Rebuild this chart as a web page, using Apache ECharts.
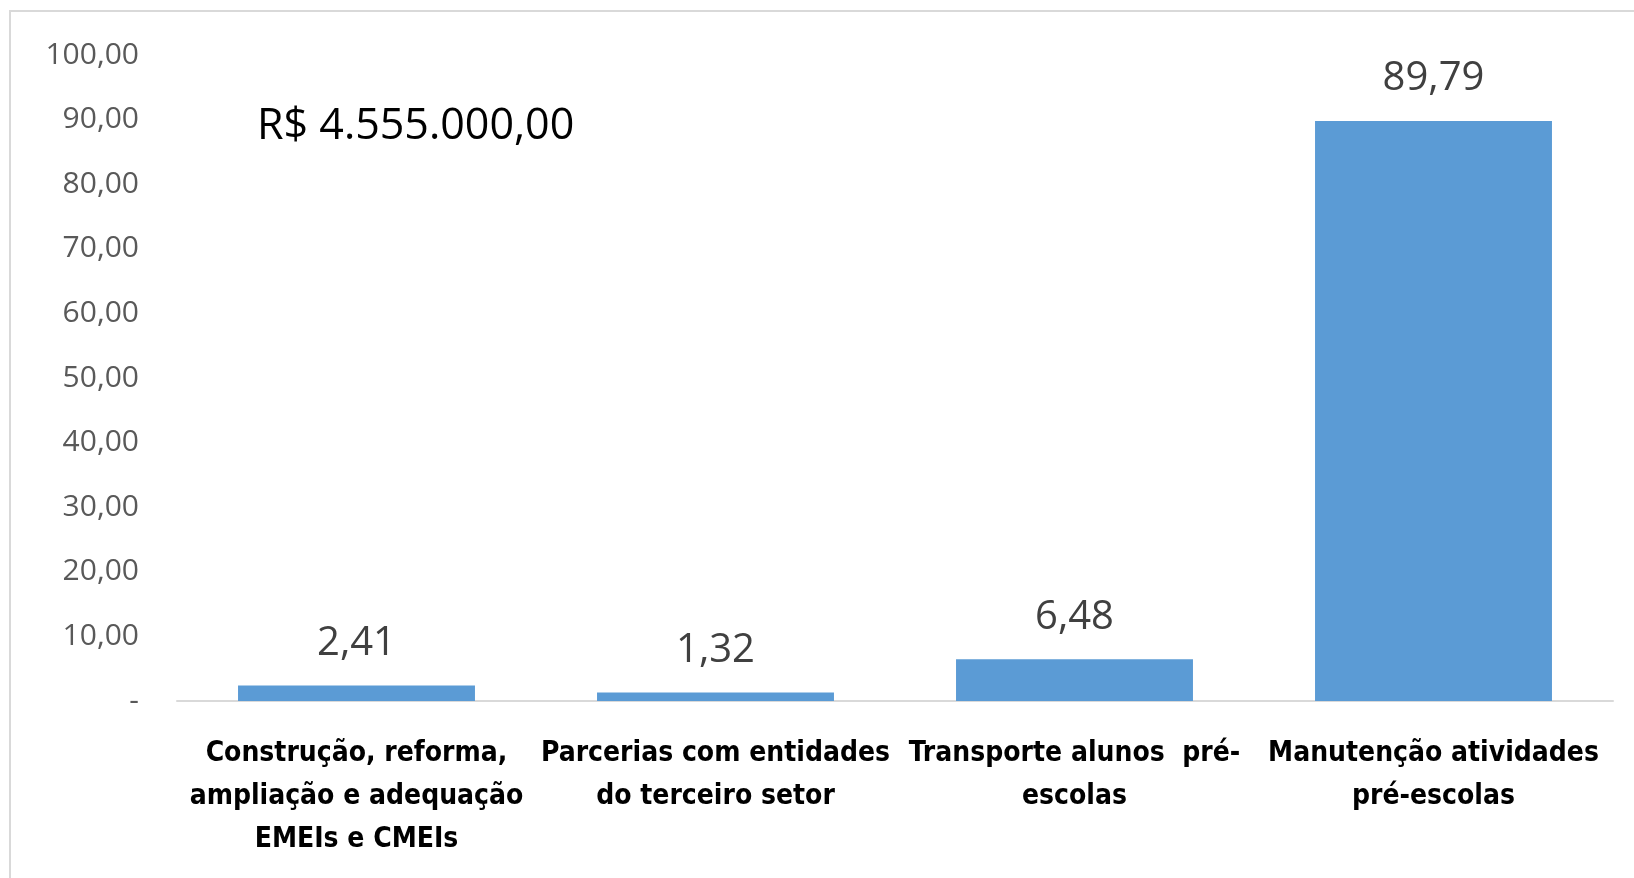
<!DOCTYPE html>
<html>
<head>
<meta charset="utf-8">
<script src="https://cdn.jsdelivr.net/npm/echarts@6/dist/echarts.min.js"></script>
<style>
  html, body { margin: 0; padding: 0; background: #fff; }
  #chart { width: 1634px; height: 878px; }
</style>
</head>
<body>
<div id="chart"></div>
<script>
const categories = [
  'Construção, reforma,\nampliação e adequação\nEMEIs e CMEIs',
  'Parcerias com entidades\ndo terceiro setor',
  'Transporte alunos  pré-\nescolas',
  'Manutenção atividades\npré-escolas'
];
const values = [2.41, 1.32, 6.48, 89.79];
const totalLabel = 'R$ 4.555.000,00';

const fmt = v => v.toFixed(2).replace('.', ',');

const chart = echarts.init(document.getElementById('chart'));
chart.setOption({
  animation: false,
  graphic: [
    {
      type: 'rect',
      shape: { x: 10, y: 11, width: 1700, height: 1000 },
      style: { fill: 'none', stroke: '#d9d9d9', lineWidth: 2 },
      silent: true
    }
  ],
  title: {
    text: totalLabel,
    left: 252,
    top: 100,
    textStyle: {
      fontFamily: 'Open Sans',
      fontWeight: 'normal',
      fontSize: 43,
      color: '#000'
    }
  },
  grid: { left: 177, right: 21, top: 55, bottom: 177 },
  xAxis: {
    type: 'category',
    data: categories,
    axisTick: { show: false },
    axisLine: { lineStyle: { color: '#d9d9d9', width: 2 } },
    axisLabel: {
      interval: 0,
      margin: 31,
      fontFamily: 'Liberation Sans Narrow, DejaVu Sans Condensed, sans-serif',
      fontWeight: 'bold',
      fontSize: 28,
      lineHeight: 43,
      color: '#000'
    }
  },
  yAxis: {
    type: 'value',
    min: 0,
    max: 100,
    interval: 10,
    axisLine: { show: false },
    axisTick: { show: false },
    splitLine: { show: false },
    axisLabel: {
      margin: 38,
      fontFamily: 'Open Sans',
      fontSize: 30,
      color: '#595959',
      formatter: v => (v === 0 ? '-' : fmt(v))
    }
  },
  series: [
    {
      type: 'bar',
      data: values,
      barWidth: '66%',
      itemStyle: { color: '#5b9bd5' },
      label: {
        show: true,
        position: 'top',
        distance: 22,
        fontFamily: 'Open Sans',
        fontSize: 40,
        color: '#404040',
        formatter: p => fmt(p.value)
      }
    }
  ]
});
</script>
</body>
</html>
